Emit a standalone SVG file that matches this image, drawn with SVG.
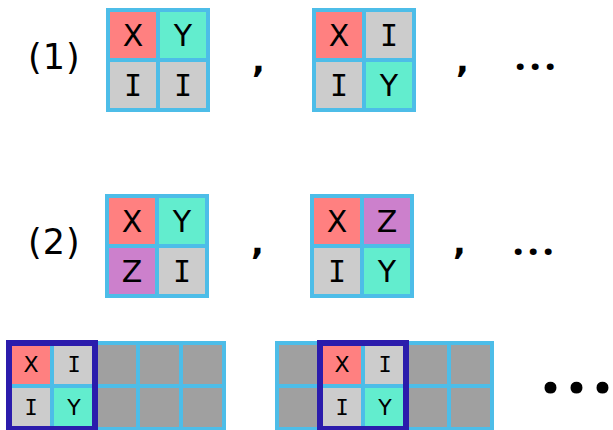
<svg xmlns="http://www.w3.org/2000/svg" width="613" height="430" viewBox="0 0 613 430">
<style>
.r{fill:#FF8080}.c{fill:#62EDCE}.g{fill:#CCCCCC}.p{fill:#CC80CC}.d{fill:#A0A0A0}
.gl{fill:none;stroke:#4DBDE8;stroke-width:4}
.db{fill:none;stroke:#2B1CAC;stroke-width:6}
.t{font-family:"DejaVu Sans",sans-serif;font-size:30px;text-anchor:middle;fill:#000}
.ti{font-family:"DejaVu Sans Mono",monospace;font-size:30px;text-anchor:middle;fill:#000}
.s{font-size:22px}
.lb{font-family:"DejaVu Sans",sans-serif;font-size:35px;letter-spacing:1px;fill:#000}
.cm{font-family:"DejaVu Sans",sans-serif;font-weight:bold;font-size:34px;fill:#000}
.dots{font-family:"Open Sans",sans-serif;font-weight:bold;font-size:40px;letter-spacing:3.6px;fill:#000}
.bdots{font-family:"Open Sans",sans-serif;font-weight:bold;font-size:70px;letter-spacing:6px;fill:#000}
</style>

<g id="label1"><text class="lb" x="28" y="69">(1)</text></g>
<g id="label2"><text class="lb" x="28" y="254">(2)</text></g>

<g id="grid1a">
<rect class="r" x="108" y="10" width="50" height="50"/><rect class="c" x="158" y="10" width="50" height="50"/>
<rect class="g" x="108" y="60" width="50" height="50"/><rect class="g" x="158" y="60" width="50" height="50"/>
<rect class="gl" x="108" y="10" width="100" height="100"/><path class="gl" d="M158 10V110M108 60H208"/>
<text class="t" x="133" y="46">X</text><text class="t" x="183" y="46">Y</text>
<text class="ti" x="133" y="96">I</text><text class="ti" x="183" y="96">I</text>
</g>
<g id="grid1b">
<rect class="r" x="314" y="10" width="50" height="50"/><rect class="g" x="364" y="10" width="50" height="50"/>
<rect class="g" x="314" y="60" width="50" height="50"/><rect class="c" x="364" y="60" width="50" height="50"/>
<rect class="gl" x="314" y="10" width="100" height="100"/><path class="gl" d="M364 10V110M314 60H414"/>
<text class="t" x="339" y="46">X</text><text class="ti" x="389" y="46">I</text>
<text class="ti" x="339" y="96">I</text><text class="t" x="389" y="96">Y</text>
</g>
<g id="sep1"><text class="cm" x="252" y="72">,</text><text class="cm" x="456" y="72">,</text><text class="dots" x="514.5" y="70">..<tspan letter-spacing="0">.</tspan></text></g>

<g id="grid2a">
<rect class="r" x="107" y="196" width="50" height="50"/><rect class="c" x="157" y="196" width="50" height="50"/>
<rect class="p" x="107" y="246" width="50" height="50"/><rect class="g" x="157" y="246" width="50" height="50"/>
<rect class="gl" x="107" y="196" width="100" height="100"/><path class="gl" d="M157 196V296M107 246H207"/>
<text class="t" x="132" y="232">X</text><text class="t" x="182" y="232">Y</text>
<text class="t" x="132" y="282">Z</text><text class="ti" x="182" y="282">I</text>
</g>
<g id="grid2b">
<rect class="r" x="312" y="196" width="50" height="50"/><rect class="p" x="362" y="196" width="50" height="50"/>
<rect class="g" x="312" y="246" width="50" height="50"/><rect class="c" x="362" y="246" width="50" height="50"/>
<rect class="gl" x="312" y="196" width="100" height="100"/><path class="gl" d="M362 196V296M312 246H412"/>
<text class="t" x="337" y="232">X</text><text class="t" x="387" y="232">Z</text>
<text class="ti" x="337" y="282">I</text><text class="t" x="387" y="282">Y</text>
</g>
<g id="sep2"><text class="cm" x="251" y="254">,</text><text class="cm" x="453" y="254">,</text><text class="dots" x="512.5" y="255">..<tspan letter-spacing="0">.</tspan></text></g>

<g id="strip1">
<rect class="d" x="9" y="343" width="215" height="86"/>
<rect class="r" x="9" y="343" width="43" height="43"/><rect class="g" x="52" y="343" width="43" height="43"/>
<rect class="g" x="9" y="386" width="43" height="43"/><rect class="c" x="52" y="386" width="43" height="43"/>
<rect class="gl" x="9" y="343" width="215" height="86"/><path class="gl" d="M52 343V429M95 343V429M138 343V429M181 343V429M9 386H224"/>
<rect class="db" x="9" y="343" width="86" height="86"/>
<text class="t s" x="31" y="372">X</text><text class="ti s" x="74" y="372">I</text>
<text class="ti s" x="31" y="415">I</text><text class="t s" x="74" y="415">Y</text>
</g>
<g id="strip2">
<rect class="d" x="277" y="343" width="215" height="86"/>
<rect class="r" x="320" y="343" width="43" height="43"/><rect class="g" x="363" y="343" width="43" height="43"/>
<rect class="g" x="320" y="386" width="43" height="43"/><rect class="c" x="363" y="386" width="43" height="43"/>
<rect class="gl" x="277" y="343" width="215" height="86"/><path class="gl" d="M320 343V429M363 343V429M406 343V429M449 343V429M277 386H492"/>
<rect class="db" x="320" y="343" width="86" height="86"/>
<text class="t s" x="342" y="372">X</text><text class="ti s" x="385" y="372">I</text>
<text class="ti s" x="342" y="415">I</text><text class="t s" x="385" y="415">Y</text>
</g>
<g id="sep3"><text class="bdots" x="540.5" y="393">..<tspan letter-spacing="0">.</tspan></text></g>
</svg>
